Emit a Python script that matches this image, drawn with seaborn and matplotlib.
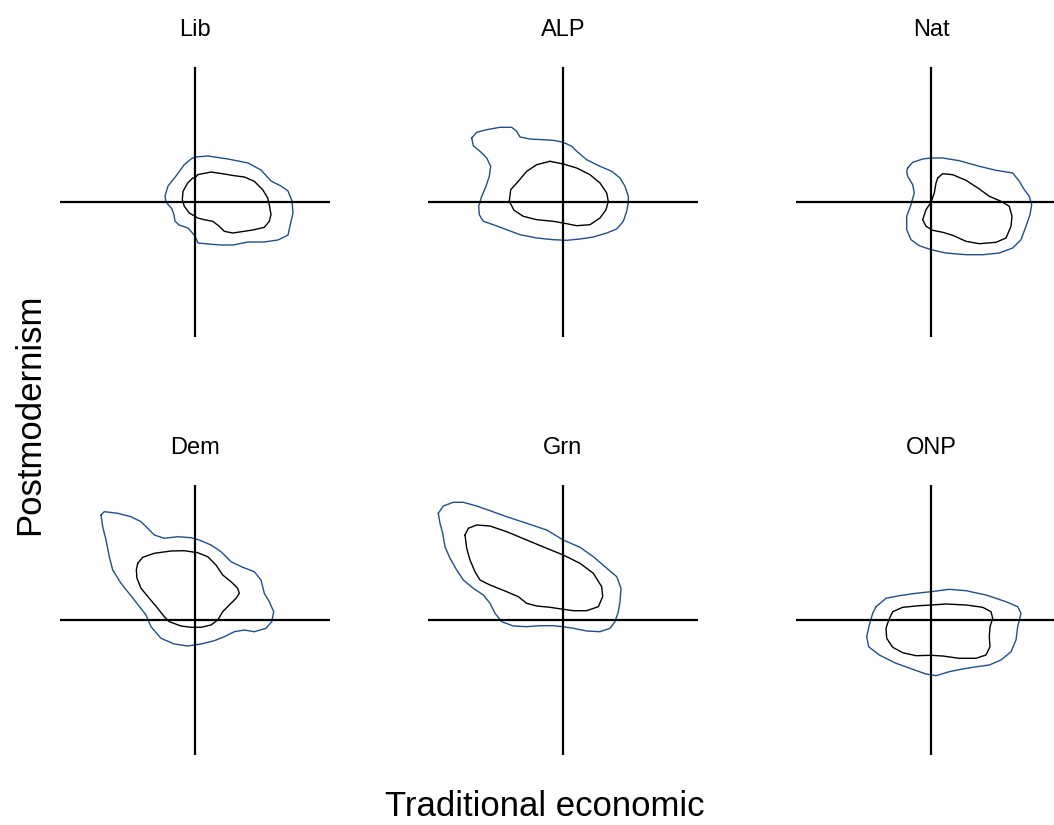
import matplotlib
matplotlib.use("Agg")
import matplotlib.pyplot as plt
import seaborn as sns
import pandas as pd

# ---- data: party panels and contour outlines (x = traditional economic, y = postmodernism) ----
parties = ["Lib", "ALP", "Nat", "Dem", "Grn", "ONP"]
levels = ["outer", "inner"]

lib_outer = [(0, 4.5), (1.3, 4.6), (3.3, 4.3), (5.3, 3.9), (6.6, 3.2), (7.6, 2.1), (8.6, 1.6),
             (9.3, 1.1), (9.7, 0.1), (9.8, -1.1), (9.5, -2.4), (9.3, -3.3), (8.3, -3.8), (6.9, -4.0),
             (5.3, -4.0), (3.8, -4.3), (2.6, -4.3), (1.3, -4.2), (0.3, -4.1), (0, -3.4), (-0.7, -2.6),
             (-1.6, -2.3), (-2.0, -1.9), (-2.1, -1.3), (-2.3, -0.7), (-2.9, 0.0), (-3.0, 0.6),
             (-2.7, 1.6), (-1.9, 2.6), (-1.1, 3.7), (-0.4, 4.3)]
lib_inner = [(0, 2.4), (0.27, 2.73), (1.6, 3.0), (2.93, 2.8), (3.93, 2.63), (4.93, 2.5), (5.93, 2.07),
             (6.77, 1.23), (7.27, 0.4), (7.43, -0.27), (7.6, -1.27), (7.43, -1.93), (6.93, -2.53),
             (5.93, -2.77), (4.93, -2.93), (3.77, -3.1), (2.93, -2.93), (2.43, -2.43), (1.77, -1.93),
             (0.93, -1.77), (0.27, -1.6), (0, -1.43), (-0.57, -1.1), (-1.07, -0.43), (-1.27, 0.23),
             (-1.2, 1.07), (-0.73, 1.9), (-0.23, 2.4)]

alp_outer = [(-9.13, 6.4), (-8.63, 6.97), (-7.63, 7.23), (-6.3, 7.47), (-5.13, 7.47), (-4.63, 7.07),
             (-4.3, 6.5), (-3.3, 6.3), (-0.97, 6.17), (0.03, 5.97), (0.87, 5.57), (1.37, 5.07),
             (2.37, 4.23), (3.7, 3.57), (4.87, 3.07), (5.7, 2.4), (6.2, 1.57), (6.53, 0.57),
             (6.53, -0.1), (6.37, -0.93), (6.03, -1.93), (5.37, -2.7), (4.37, -3.1), (3.03, -3.5),
             (1.7, -3.7), (0.37, -3.83), (-0.97, -3.77), (-2.63, -3.6), (-4.3, -3.27), (-5.63, -2.77),
             (-6.97, -2.27), (-7.97, -1.93), (-8.37, -1.27), (-8.43, -0.43), (-8.13, 0.57),
             (-7.7, 1.57), (-7.37, 2.57), (-7.23, 3.57), (-7.63, 4.4), (-8.3, 5.07), (-8.97, 5.63)]
alp_inner = [(-1.3, 4.07), (0.03, 3.8), (1.37, 3.4), (2.7, 2.73), (3.7, 1.9), (4.37, 0.9), (4.53, 0.07),
             (4.3, -0.77), (3.7, -1.6), (2.7, -2.27), (1.37, -2.37), (0.37, -2.17), (-0.97, -1.93),
             (-2.63, -1.77), (-3.97, -1.43), (-4.9, -0.83), (-5.37, 0.07), (-5.23, 1.23),
             (-4.47, 2.07), (-3.63, 3.07), (-2.63, 3.73)]

nat_outer = [(-2.33, 3.4), (-1.83, 3.97), (-0.83, 4.3), (0, 4.4), (1.17, 4.4), (2.83, 4.13), (4.83, 3.57),
             (6.5, 3.17), (8.17, 2.9), (8.83, 2.07), (9.33, 1.23), (9.83, 0.57), (10.07, -0.27),
             (9.9, -1.27), (9.5, -2.43), (9.0, -3.77), (8.17, -4.6), (6.83, -5.1), (5.17, -5.27),
             (3.5, -5.27), (1.5, -5.1), (0, -4.77), (-1.17, -4.37), (-2.0, -3.77), (-2.43, -2.77),
             (-2.43, -1.43), (-2.0, -0.27), (-1.67, 0.9), (-1.83, 1.73), (-2.33, 2.57), (-2.43, 3.07)]
nat_inner = [(0.67, 2.4), (1.17, 2.83), (2.17, 2.73), (3.5, 2.17), (4.83, 1.3), (5.83, 0.57), (7.0, 0.07),
             (7.83, -0.43), (8.1, -1.43), (8.0, -2.43), (7.5, -3.6), (6.5, -4.03), (4.83, -4.17),
             (3.5, -3.93), (2.17, -3.33), (1.17, -3.03), (0.17, -2.83), (-0.5, -2.43), (-0.83, -1.77),
             (-0.5, -0.77), (0, -0.03), (0.33, 0.9), (0.5, 1.9)]

dem_outer = [(-9.4, 10.5), (-9.07, 10.83), (-7.73, 10.67), (-6.4, 10.33), (-5.4, 9.83), (-4.73, 9.17),
             (-4.07, 8.5), (-3.07, 8.17), (-1.73, 8.33), (-0.4, 8.23), (0.43, 8.0), (1.6, 7.5),
             (2.6, 6.83), (3.6, 5.83), (4.77, 5.27), (5.93, 4.83), (6.6, 4.0), (6.93, 2.67),
             (7.43, 1.83), (7.87, 0.83), (7.67, -0.17), (7.1, -0.83), (5.93, -1.17), (4.93, -1.0),
             (3.93, -1.17), (2.93, -1.67), (1.93, -2.07), (0.6, -2.4), (-0.73, -2.6), (-2.07, -2.4),
             (-3.4, -1.83), (-4.4, -0.67), (-4.9, 0.5), (-6.07, 2.0), (-7.4, 3.67), (-8.23, 5.0),
             (-8.57, 6.33), (-8.9, 8.0), (-9.23, 9.33)]
dem_inner = [(-5.73, 5.67), (-5.23, 6.27), (-4.07, 6.67), (-2.4, 6.9), (-1.07, 6.93), (0.27, 6.73),
             (1.27, 6.33), (2.1, 5.5), (2.77, 4.5), (3.6, 3.83), (4.27, 3.17), (4.43, 2.67), (4.1, 2.17),
             (3.43, 1.5), (2.77, 0.83), (2.27, 0), (1.6, -0.5), (0.6, -0.73), (-0.4, -0.73), (-1.4, -0.6),
             (-2.57, -0.17), (-3.07, 0.33), (-3.73, 1.17), (-4.57, 2.17), (-5.4, 3.17), (-5.8, 4.17),
             (-5.87, 5.0)]

grn_outer = [(-12.47, 10.67), (-11.97, 11.4), (-10.97, 11.77), (-9.97, 11.77), (-8.63, 11.4), (-7.3, 10.93),
             (-5.63, 10.33), (-3.63, 9.67), (-1.63, 9.0), (0.03, 8.0), (1.7, 7.27), (3.03, 6.33),
             (4.2, 5.33), (5.37, 4.33), (5.8, 3.17), (5.7, 1.83), (5.53, 0.83), (5.2, -0.17), (4.7, -0.83),
             (3.7, -1.17), (2.37, -1.1), (1.03, -0.83), (0.03, -0.67), (-0.97, -0.57), (-2.3, -0.57),
             (-3.63, -0.67), (-4.97, -0.6), (-6.13, -0.17), (-6.8, 0.67), (-7.3, 1.67), (-7.97, 2.5),
             (-8.97, 3.17), (-9.97, 4.0), (-10.63, 5.0), (-11.3, 6.17), (-11.8, 7.33), (-12.03, 8.67),
             (-12.3, 9.67)]
grn_inner = [(-9.8, 8.5), (-9.47, 9.17), (-8.63, 9.5), (-7.3, 9.4), (-5.63, 8.83), (-3.63, 8.0), (-1.63, 7.17),
             (0.03, 6.5), (1.7, 5.67), (3.03, 4.67), (3.87, 3.33), (3.97, 2.33), (3.53, 1.33), (2.37, 0.93),
             (1.03, 0.93), (0.03, 1.07), (-1.3, 1.27), (-2.63, 1.4), (-3.63, 1.67), (-4.47, 2.33),
             (-5.63, 2.83), (-7.3, 3.5), (-8.3, 4.0), (-8.8, 4.83), (-9.3, 6.0), (-9.63, 7.17)]

onp_outer = [(-5.5, 1.33), (-4.5, 2.17), (-3.17, 2.43), (-1.5, 2.67), (0, 2.83), (1.83, 3.07), (3.5, 2.93),
             (5.5, 2.5), (7.5, 1.83), (8.67, 1.33), (9.0, 0.67), (8.67, -0.67), (8.5, -2.0), (8.0, -3.17),
             (7.0, -4.0), (5.83, -4.5), (4.17, -4.73), (3.0, -4.93), (1.83, -5.17), (0.5, -5.57),
             (-0.5, -5.4), (-1.83, -4.93), (-3.5, -4.33), (-5.17, -3.5), (-6.23, -2.67), (-6.43, -1.67),
             (-6.17, -0.5), (-5.83, 0.67)]
onp_inner = [(-3.83, 0.83), (-2.83, 1.27), (-1.17, 1.43), (0, 1.5), (1.5, 1.6), (3.5, 1.5), (5.17, 1.27),
             (6.0, 0.83), (6.17, 0.17), (5.9, -0.67), (5.83, -1.67), (5.9, -2.67), (5.5, -3.5), (4.5, -3.83),
             (2.83, -3.83), (1.17, -3.6), (0, -3.53), (-1.5, -3.57), (-2.83, -3.27), (-3.83, -2.73),
             (-4.43, -1.83), (-4.5, -0.83), (-4.23, 0)]

contours = {
    ("Lib", "outer"): lib_outer, ("Lib", "inner"): lib_inner,
    ("ALP", "outer"): alp_outer, ("ALP", "inner"): alp_inner,
    ("Nat", "outer"): nat_outer, ("Nat", "inner"): nat_inner,
    ("Dem", "outer"): dem_outer, ("Dem", "inner"): dem_inner,
    ("Grn", "outer"): grn_outer, ("Grn", "inner"): grn_inner,
    ("ONP", "outer"): onp_outer, ("ONP", "inner"): onp_inner,
}

# ---- build long table ----
rows = []
for (party, level), pts in contours.items():
    closed = list(pts) + [pts[0]]
    for i, (x, y) in enumerate(closed):
        rows.append({"party": party, "level": level, "order": i, "x": x, "y": y})
df = pd.DataFrame(rows)

sns.set_theme(style="white")
plt.rcParams["font.family"] = ["Liberation Sans", "DejaVu Sans"]
plt.rcParams["text.color"] = "black"
plt.rcParams["axes.titlecolor"] = "black"
plt.rcParams["axes.labelcolor"] = "black"

palette = {"outer": "#1f4f8f", "inner": "#000000"}

g = sns.FacetGrid(df, col="party", col_order=parties, col_wrap=3, height=2.7, aspect=1,
                  sharex=True, sharey=True, despine=False)
g.map_dataframe(sns.lineplot, x="x", y="y", hue="level", hue_order=levels, palette=palette,
                sort=False, estimator=None, linewidth=1.0, legend=False,
                solid_joinstyle="round")
g.set_titles("{col_name}", size=17, pad=22, color="black")
g.set_axis_labels("", "")

fig = g.figure
fig.set_size_inches(10.54, 8.25)

W, H = 1054.0, 825.0
lefts = [60, 428, 796]
tops = [67, 485]
size = 270
for idx, ax in enumerate(g.axes.flat):
    r, c = divmod(idx, 3)
    ax.set_position([lefts[c] / W, (H - tops[r] - size) / H, size / W, size / H])
    ax.set_xlim(-13.5, 13.5)
    ax.set_ylim(-13.5, 13.5)
    ax.axhline(0, color="black", linewidth=1.6, zorder=3)
    ax.axvline(0, color="black", linewidth=1.6, zorder=3)
    ax.set_xticks([])
    ax.set_yticks([])
    for sp in ax.spines.values():
        sp.set_visible(False)
    ax.set_facecolor("white")

fig.text(545 / W, 2 / H, "Traditional economic", ha="center", va="bottom", fontsize=25, color="black")
fig.text(30 / W, 1 - 414 / H, "Postmodernism", ha="center", va="center", rotation=90, fontsize=25,
         color="black")

fig.savefig("out.png", dpi=100, facecolor="white")
